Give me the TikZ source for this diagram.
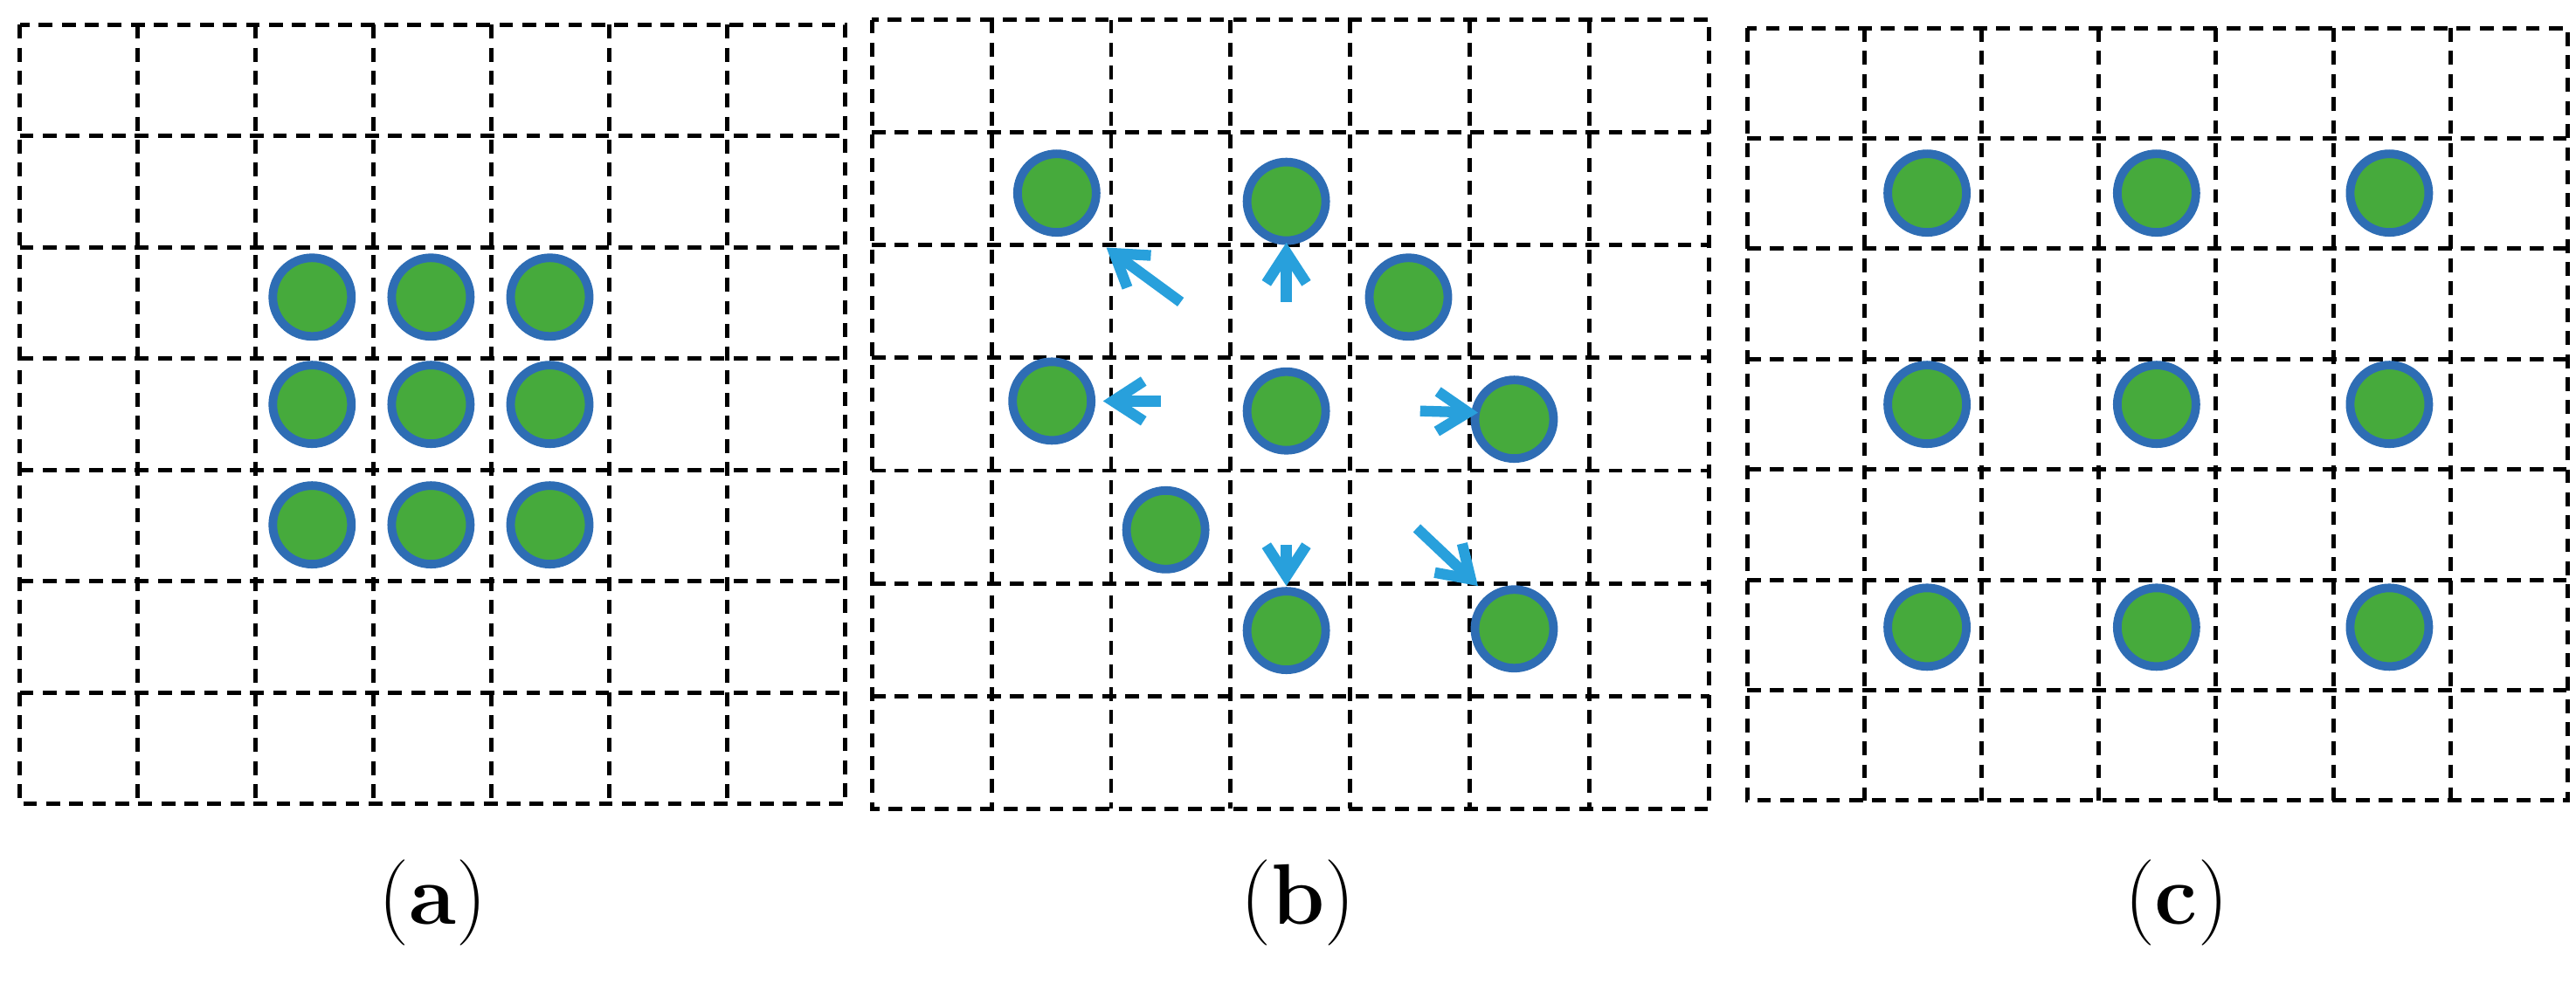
\documentclass[tikz,border=0pt]{standalone}
\usepackage{xcolor}
\usetikzlibrary{arrows.meta}
\definecolor{dotg}{HTML}{46AA3C}
\definecolor{dotb}{HTML}{2E6DB4}
\definecolor{arr}{HTML}{28A0DC}
\begin{document}
\begin{tikzpicture}[x=0.0189cm,y=-0.0189cm,
  grid/.style={black,line width=1.4pt,dash pattern=on 4.5pt off 3pt},
  dot/.style={circle,inner sep=0pt,fill=dotg,draw=dotb,line width=2.8pt,minimum size=0.9cm},
  mv/.style={arr,line width=3.5pt,-{Straight Barb[length=10pt,width=13pt]}},
  lab/.style={font=\fontsize{28}{34}\selectfont}]
\useasboundingbox (0,0) rectangle (1560,596);
% grids
\foreach \xa/\ya/\xb/\yb in {12/15/512/487, 528/12/1035/490, 1058/17/1555/485}{
  \draw[grid] (\xa,\ya) rectangle (\xb,\yb);
  \foreach \i in {1,...,6}{
    \draw[grid] ({\xa+\i*(\xb-\xa)/7},\ya) -- ({\xa+\i*(\xb-\xa)/7},\yb);
    \draw[grid] (\xa,{\ya+\i*(\yb-\ya)/7}) -- (\xb,{\ya+\i*(\yb-\ya)/7});
  }
}
% (a)
\foreach \x/\c in {189/1,261/2,333/3}{
  \foreach \y/\r in {180/1,245/2,318/3}{
    \node[dot] (a\r\c) at (\x,\y) {};
  }
}
% (b)
\node[dot] (b1) at (640,117) {};
\node[dot] (b2) at (779,122) {};
\node[dot] (b3) at (853,180) {};
\node[dot] (b4) at (637,243) {};
\node[dot] (b5) at (779,249) {};
\node[dot] (b6) at (917,254) {};
\node[dot] (b7) at (706,321) {};
\node[dot] (b8) at (779,382) {};
\node[dot] (b9) at (917,381) {};
\coordinate (s1) at (715,183); \coordinate (e1) at (670,150);
\coordinate (s2) at (779,183); \coordinate (e2) at (779,147);
\coordinate (s3) at (703,243); \coordinate (e3) at (668,243);
\coordinate (s4) at (860,249); \coordinate (e4) at (895,250);
\coordinate (s5) at (779,330); \coordinate (e5) at (779,355);
\coordinate (s6) at (858,320); \coordinate (e6) at (895,355);
\foreach \k in {1,...,6}{\draw[mv] (s\k) -- (e\k);}
% (c)
\foreach \x/\c in {1167/1,1306/2,1447/3}{
  \foreach \y/\r in {117/1,245/2,380/3}{
    \node[dot] (c\r\c) at (\x,\y) {};
  }
}
\node[lab] (la) at (262,547) {(\textbf{a})};
\node[lab] (lb) at (786,547) {(\textbf{b})};
\node[lab] (lc) at (1318,547) {(\textbf{c})};
\end{tikzpicture}
\end{document}
